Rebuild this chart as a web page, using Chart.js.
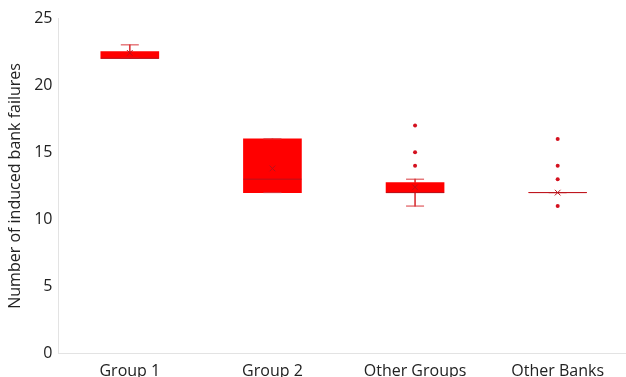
<!DOCTYPE html>
<html>
<head>
<meta charset="utf-8">
<script src="https://cdn.jsdelivr.net/npm/chart.js@4/dist/chart.umd.min.js"></script>
<style>
  html, body { margin: 0; padding: 0; background: #fff; overflow: hidden; }
  #wrap { width: 659px; height: 401px; margin-top: -12px; }
</style>
</head>
<body>
<div id="wrap"><canvas id="box"></canvas></div>
<script>
// box plot values
var groups = ['Group 1', 'Group 2', 'Other Groups', 'Other Banks'];
var q1 = [22, 12, 12, 12];
var q3 = [22.5, 16, 12.75, 12];
var median = [22, 13, 12, 12];
var mean = [22.4, 13.8, 12.4, 12];
var whiskerLow = [22, 12, 11, 12];
var whiskerHigh = [23, 16, 13, 12];
var outlierGroup = ['Other Groups', 'Other Groups', 'Other Groups', 'Other Banks', 'Other Banks', 'Other Banks', 'Other Banks'];
var outlierValue = [17, 15, 14, 16, 14, 13, 11];
var yTicks = [0, 5, 10, 15, 20, 25];

var boxRed = '#ff0000';
var lineRed = '#d9383c';
var darkRed = '#b8121b';
var dotRed = '#d4111f';

var boxes = groups.map(function (g, i) { return [q1[i], q3[i]]; });
var upper = groups.map(function (g, i) { return [q3[i], whiskerHigh[i]]; });
var lower = groups.map(function (g, i) { return [whiskerLow[i], q1[i]]; });
var pts = function (arr) { return groups.map(function (g, i) { return { x: g, y: arr[i] }; }); };
var outliers = outlierGroup.map(function (g, i) { return { x: g, y: outlierValue[i] }; });

var ctx = document.getElementById('box').getContext('2d');
var chart = new Chart(ctx, {
    type: 'bar',
    data: {
        labels: groups,
        datasets: [
            {
                type: 'bar', data: upper, grouped: false, barThickness: 1,
                backgroundColor: lineRed, order: 5
            },
            {
                type: 'bar', data: lower, grouped: false, barThickness: 1,
                backgroundColor: lineRed, order: 5
            },
            {
                type: 'bar', data: boxes, grouped: false, barThickness: 58,
                backgroundColor: boxRed, borderWidth: 0, order: 4
            },
            {
                type: 'line', data: pts(whiskerHigh), showLine: false,
                pointStyle: 'line', pointRadius: 9, borderColor: lineRed, borderWidth: 1, order: 3
            },
            {
                type: 'line', data: pts(whiskerLow), showLine: false,
                pointStyle: 'line', pointRadius: 9, borderColor: lineRed, borderWidth: 1, order: 3
            },
            {
                type: 'line', data: pts(median), showLine: false,
                pointStyle: 'line', pointRadius: 29, borderColor: darkRed, borderWidth: 1, order: 2
            },
            {
                type: 'line', data: pts(mean), showLine: false,
                pointStyle: 'crossRot', pointRadius: 4, borderColor: darkRed, borderWidth: 1, order: 1
            },
            {
                type: 'line', data: outliers, showLine: false,
                pointStyle: 'circle', pointRadius: 2, backgroundColor: dotRed, borderColor: dotRed, borderWidth: 0, order: 1
            }
        ]
    },
    options: {
        responsive: true,
        maintainAspectRatio: false,
        animation: false,
        layout: { padding: { top: 0, right: 0, left: 2, bottom: 0 } },
        plugins: { legend: { display: false }, tooltip: { enabled: false } },
        scales: {
            x: {
                grid: { display: false, drawTicks: false },
                border: { color: '#e3e3e3' },
                ticks: { color: '#222', padding: 8, font: { family: 'Open Sans', size: 16 } }
            },
            y: {
                min: 0, max: 25,
                afterBuildTicks: function (axis) { axis.ticks = yTicks.map(function (v) { return { value: v }; }); },
                grid: { display: false, drawTicks: false },
                border: { color: '#e3e3e3' },
                ticks: { color: '#222', padding: 6, font: { family: 'Open Sans', size: 16 } },
                title: {
                    display: true, text: 'Number of induced bank failures', color: '#222',
                    padding: { top: 4, bottom: 3 },
                    font: { family: 'Open Sans', size: 16 }
                }
            }
        }
    }
});
</script>
</body>
</html>
